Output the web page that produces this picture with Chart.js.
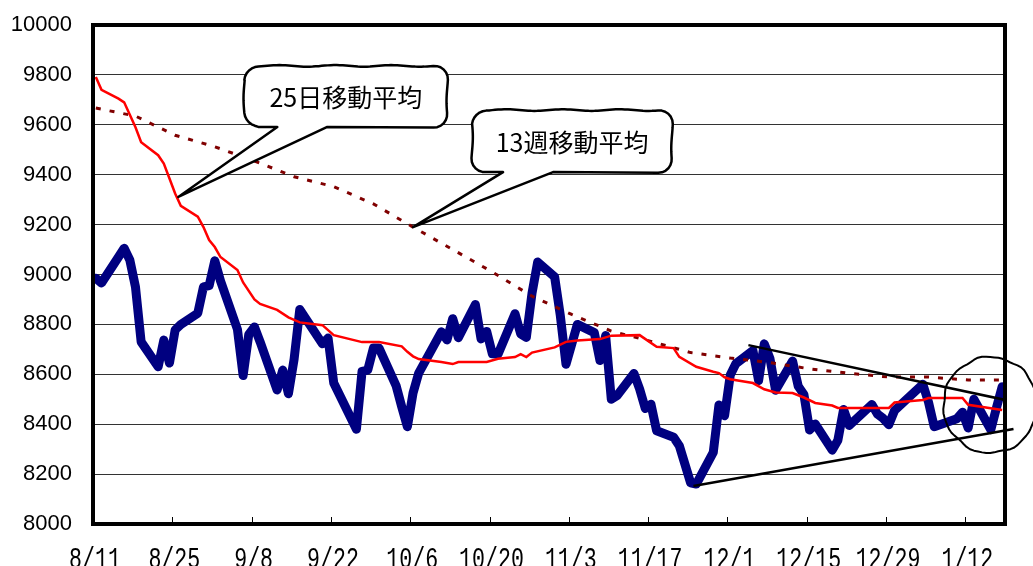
<!DOCTYPE html>
<html lang="ja">
<head>
<meta charset="UTF-8">
<title>日経平均と移動平均</title>
<script src="https://cdn.jsdelivr.net/npm/chart.js"></script>
<style>
    html, body { margin: 0; padding: 0; background: #fff; }
    #wrap { width: 1033px; height: 566px; }
</style>
</head>
<body>
<div id="wrap"><canvas id="chart" width="1033" height="566"></canvas></div>
<script>
// daily closes
const closeDates = [
    '8/11','8/12','8/15','8/16','8/17','8/18','8/19','8/22','8/23','8/24','8/25','8/26','8/29','8/30','8/31',
    '9/1','9/2','9/5','9/6','9/7','9/8','9/9','9/12','9/13','9/14','9/15','9/16','9/20','9/21','9/22',
    '9/26','9/27','9/28','9/29','9/30','10/3','10/4','10/5','10/6','10/7','10/11','10/12','10/13','10/14',
    '10/17','10/18','10/19','10/20','10/21','10/24','10/25','10/26','10/27','10/28','10/31','11/1','11/2',
    '11/4','11/7','11/8','11/9','11/10','11/11','11/14','11/15','11/16','11/17','11/18','11/21','11/22',
    '11/24','11/25','11/28','11/29','11/30','12/1','12/2','12/5','12/6','12/7','12/8','12/9','12/12',
    '12/13','12/14','12/15','12/16','12/19','12/20','12/21','12/22','12/26','12/27','12/28','12/29','12/30',
    '1/4','1/5','1/6','1/10','1/11','1/12','1/13','1/16','1/17','1/18'
];
const closes = [
    8985, 8966, 9070, 9105, 9058, 8950, 8730, 8630, 8737, 8645, 8778, 8800, 8845, 8950, 8955,
    9055, 8975, 8780, 8595, 8760, 8790, 8730, 8537, 8617, 8522, 8660, 8860, 8722, 8745, 8565,
    8380, 8612, 8617, 8705, 8705, 8555, 8470, 8390, 8525, 8605, 8770, 8738, 8823, 8747,
    8880, 8742, 8772, 8682, 8680, 8843, 8762, 8748, 8925, 9050, 8990, 8835, 8640,
    8800, 8767, 8655, 8755, 8500, 8514, 8603, 8541, 8463, 8480, 8374, 8348, 8314,
    8165, 8160, 8287, 8477, 8434, 8597, 8643, 8695, 8575, 8722, 8664, 8536, 8653,
    8552, 8519, 8377, 8401, 8296, 8336, 8459, 8395, 8479, 8440, 8423, 8398, 8455,
    8560, 8488, 8390, 8422, 8448, 8385, 8500, 8378, 8466, 8550
];

// 25-day moving average
const ma25Dates = [
    '8/11','8/12','8/15','8/16','8/17','8/18','8/19','8/22','8/23','8/24','8/25','8/26','8/29','8/30','8/31',
    '9/1','9/2','9/5','9/6','9/8','9/9','9/12','9/14','9/16','9/20','9/22','9/27','9/30','10/4','10/5',
    '10/6','10/7','10/11','10/13','10/14','10/19','10/21','10/24','10/25','10/26','10/27','10/31','11/2',
    '11/4','11/8','11/10','11/15','11/18','11/21','11/22','11/25','11/28','11/29','11/30','12/1','12/5',
    '12/7','12/9','12/12','12/14','12/16','12/19','12/20','12/29','12/30','1/4','1/5','1/11','1/12','1/18'
];
const ma25 = [
    9792, 9740, 9705, 9690, 9640, 9590, 9530, 9478, 9445, 9385, 9325, 9275, 9232, 9190, 9138,
    9110, 9070, 9018, 8968, 8900, 8882, 8858, 8828, 8808, 8797, 8757, 8729, 8729, 8712, 8690,
    8672, 8661, 8649, 8641, 8649, 8649, 8662, 8669, 8681, 8669, 8687, 8708, 8730,
    8735, 8741, 8755, 8757, 8710, 8705, 8670, 8630, 8610, 8605, 8588, 8580, 8565,
    8540, 8527, 8525, 8507, 8485, 8475, 8465, 8465, 8487, 8497, 8505, 8505, 8478, 8457
];

// 13-week moving average (weekly)
const ma13wDates = [
    '8/11','8/18','8/25','9/1','9/8','9/15','9/22','9/29','10/6','10/13','10/20','10/27',
    '11/3','11/10','11/17','11/24','12/1','12/8','12/15','12/22','12/29','1/5','1/12','1/18'
];
const ma13w = [
    9667, 9635, 9558, 9512, 9455, 9392, 9352, 9283, 9190, 9100, 9010, 8913,
    8840, 8773, 8732, 8687, 8665, 8647, 8622, 8604, 8589, 8589, 8577, 8577
];

// converging trend lines: [day, price]
const upperTrend = [[115.7, 8717], [161.1, 8497]];
const lowerTrend = [[106.0, 8152], [162.5, 8381]];

const tickDates = ['8/11','8/25','9/8','9/22','10/6','10/20','11/3','11/17','12/1','12/15','12/29','1/12'];

// days since 8/11, points sit in the middle of their day
function dayPos(md) {
    const [m, d] = md.split('/').map(Number);
    const y = m >= 8 ? 2011 : 2012;
    return (Date.UTC(y, m - 1, d) - Date.UTC(2011, 7, 11)) / 86400000 + 0.5;
}
const toPoints = (dates, vals) => dates.map((md, i) => ({ x: dayPos(md), y: vals[i] }));
const pairPoints = arr => arr.map(p => ({ x: p[0], y: p[1] }));

// speech-bubble labels, anchored on the lines
const callouts = [
    { text: '25日移動平均', tip: { x: 15.06, y: 9311 }, box: [66, -131, 269, -70], tail: [99, 149] },
    { text: '13週移動平均', tip: { x: 56.5, y: 9190 }, box: [59, -117, 259, -55], tail: [90, 140] }
];
const ring = { x: 158.4, y: 8477, rx: 47, ry: 48 };

function wobblyPath(ctx, pts, amp) {
    // pts: [x, y, wavy]; wavy edges get a slight hand-drawn ripple
    let s = 0;
    ctx.beginPath();
    ctx.moveTo(pts[0][0], pts[0][1]);
    for (let i = 1; i <= pts.length; i++) {
        const a = pts[i - 1], b = pts[i % pts.length];
        const dx = b[0] - a[0], dy = b[1] - a[1];
        const len = Math.hypot(dx, dy);
        if (a[2] && b[2] && len > 0) {
            const nx = -dy / len, ny = dx / len;
            const n = Math.max(1, Math.round(len / 3));
            for (let k = 1; k <= n; k++) {
                const t = k / n;
                const w = amp * Math.sin((s + len * t) / 9);
                ctx.lineTo(a[0] + dx * t + nx * w, a[1] + dy * t + ny * w);
            }
        } else {
            ctx.lineTo(b[0], b[1]);
        }
        s += len;
    }
    ctx.closePath();
}

function bubblePoints(l, t, r, b, rad, tl, tr, tip) {
    const pts = [];
    const arc = (cx, cy, a0, a1) => {
        for (let i = 0; i <= 6; i++) {
            const a = a0 + (a1 - a0) * i / 6;
            pts.push([cx + rad * Math.cos(a), cy + rad * Math.sin(a), true]);
        }
    };
    arc(l + rad, t + rad, Math.PI, 1.5 * Math.PI);
    arc(r - rad, t + rad, 1.5 * Math.PI, 2 * Math.PI);
    arc(r - rad, b - rad, 0, 0.5 * Math.PI);
    pts.push([tr, b, false], [tip[0], tip[1], false], [tl, b, false]);
    arc(l + rad, b - rad, 0.5 * Math.PI, Math.PI);
    return pts;
}

const framePlugin = {
    id: 'frame',
    afterDatasetsDraw(chart) {
        const { ctx, chartArea: a, scales: { x } } = chart;
        ctx.save();
        ctx.strokeStyle = '#000';
        ctx.lineWidth = 1;
        x.ticks.forEach(t => {
            const px = Math.round(x.getPixelForValue(t.value)) + 0.5;
            ctx.beginPath();
            ctx.moveTo(px, a.bottom);
            ctx.lineTo(px, a.bottom - 7);
            ctx.stroke();
        });
        ctx.lineWidth = 4;
        ctx.strokeRect(a.left, a.top, a.right - a.left, a.bottom - a.top);

        // date labels: tall, narrow half-width digits
        ctx.fillStyle = '#000';
        ctx.font = '30px "Liberation Mono", monospace';
        ctx.textAlign = 'center';
        ctx.textBaseline = 'alphabetic';
        x.ticks.forEach(t => {
            ctx.save();
            ctx.translate(x.getPixelForValue(t.value) + 2, a.bottom + 44);
            ctx.scale(0.72, 1);
            ctx.fillText(tickDates[Math.round(t.value / 14)], 0, 0);
            ctx.restore();
        });
        ctx.restore();
    },
    afterDraw(chart) {
        const { ctx, scales: { x, y } } = chart;
        ctx.save();
        ctx.lineJoin = 'round';
        callouts.forEach(c => {
            const tx = x.getPixelForValue(c.tip.x), ty = y.getPixelForValue(c.tip.y);
            const [l, t, r, b] = [tx + c.box[0], ty + c.box[1], tx + c.box[2], ty + c.box[3]];
            const pts = bubblePoints(l, t, r, b, 14, tx + c.tail[0], tx + c.tail[1], [tx, ty]);
            wobblyPath(ctx, pts, 0.8);
            ctx.fillStyle = '#fff';
            ctx.fill();
            ctx.strokeStyle = '#000';
            ctx.lineWidth = 2.5;
            ctx.stroke();
            ctx.fillStyle = '#000';
            ctx.font = '25px "Noto Sans CJK JP", sans-serif';
            ctx.textAlign = 'center';
            ctx.textBaseline = 'middle';
            ctx.fillText(c.text, (l + r) / 2, (t + b) / 2 + 1);
        });
        // hand-drawn ring around the latest sessions
        const cx = x.getPixelForValue(ring.x), cy = y.getPixelForValue(ring.y);
        ctx.beginPath();
        for (let i = 0; i <= 72; i++) {
            const th = i / 72 * Math.PI * 2;
            const k = 1 + 0.015 * Math.sin(th * 7 + 1) + 0.01 * Math.sin(th * 13);
            const px = cx + ring.rx * k * Math.cos(th), py = cy + ring.ry * k * Math.sin(th);
            i ? ctx.lineTo(px, py) : ctx.moveTo(px, py);
        }
        ctx.lineWidth = 2;
        ctx.strokeStyle = '#000';
        ctx.stroke();
        ctx.restore();
    }
};

new Chart(document.getElementById('chart'), {
    type: 'line',
    data: {
        datasets: [
            {
                data: pairPoints(upperTrend), borderColor: '#000', borderWidth: 2.5,
                pointRadius: 0, order: 0
            },
            {
                data: pairPoints(lowerTrend), borderColor: '#000', borderWidth: 2.5,
                pointRadius: 0, order: 0, clip: false
            },
            {
                data: toPoints(ma25Dates, ma25), borderColor: '#ff0000', borderWidth: 2.5,
                pointRadius: 0, order: 1
            },
            {
                data: toPoints(ma13wDates, ma13w), borderColor: '#800000', borderWidth: 3,
                borderDash: [5, 9], pointRadius: 0, order: 2
            },
            {
                data: toPoints(closeDates, closes), borderColor: '#000080', borderWidth: 9,
                borderJoinStyle: 'round', borderCapStyle: 'round', pointRadius: 0, order: 3
            }
        ]
    },
    options: {
        responsive: false,
        devicePixelRatio: 1,
        animation: false,
        layout: { padding: { top: 25, right: 28, left: 0, bottom: 0 } },
        plugins: { legend: { display: false }, tooltip: { enabled: false } },
        scales: {
            x: {
                type: 'linear', min: 0, max: 161,
                afterBuildTicks: s => { s.ticks = tickDates.map((_, i) => ({ value: i * 14 })); },
                afterFit: s => { s.height = 42; s.paddingLeft = 0; s.paddingRight = 0; },
                grid: { display: false, drawTicks: false },
                border: { display: false },
                ticks: { display: false }
            },
            y: {
                min: 8000, max: 10000,
                afterFit: s => { s.width = 93; s.paddingTop = 0; s.paddingBottom = 0; },
                grid: { color: '#333', lineWidth: 1, drawTicks: false },
                border: { display: false },
                ticks: {
                    stepSize: 200, padding: 21, color: '#000',
                    font: { family: "'Liberation Sans'", size: 22 },
                    callback: v => String(v)
                }
            }
        }
    },
    plugins: [framePlugin]
});
</script>
</body>
</html>
